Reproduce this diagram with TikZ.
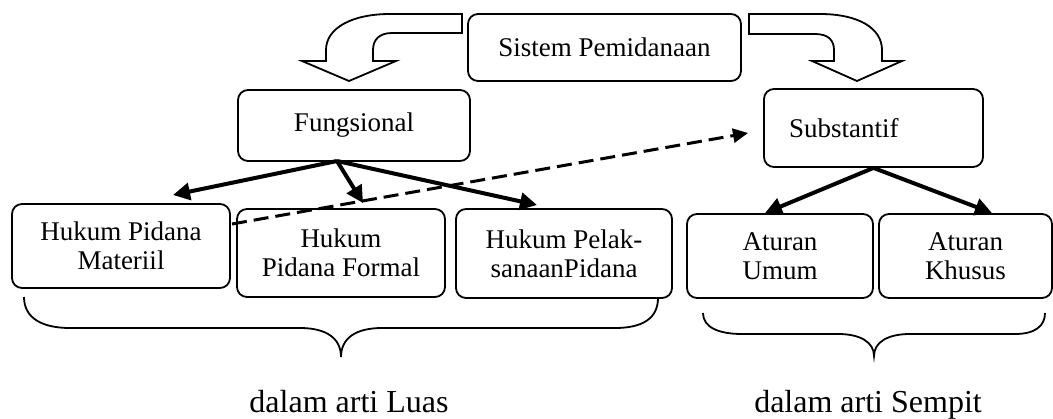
\documentclass[tikz,border=0pt]{standalone}
\usepackage{fontspec}
\setmainfont{Liberation Serif}
\usetikzlibrary{arrows.meta}
\begin{document}
\begin{tikzpicture}[x=1pt,y=-1pt,
  box/.style={draw, rounded corners=10pt, line width=1.8pt, align=center, inner sep=0pt,
    font=\fontsize{27}{29}\selectfont},
  thickarrow/.style={line width=4pt, -{Triangle[length=17pt,width=17pt]}},
  dasharrow/.style={line width=3pt, dash pattern=on 15pt off 7pt, -{Triangle[length=15pt,width=14pt]}},
  blockarrow/.style={draw, line width=1.8pt, fill=white, line join=miter},
  curlybrace/.style={line width=1.8pt},
  bracelabel/.style={font=\fontsize{32}{34}\selectfont, anchor=base, inner sep=0pt}]
\useasboundingbox (0,0) rectangle (1053,418);

% block arrows
\draw[blockarrow] (462,14) -- (390,14) .. controls (352,14) and (326,28) .. (326,50)
  -- (326,61) -- (302,61) -- (349,81) -- (396,61) -- (373,61) -- (373,50)
  .. controls (373,40) and (379,33) .. (392,33) -- (462,33) -- cycle;
\draw[blockarrow] (749,14) -- (820,14) .. controls (858,14) and (882,28) .. (882,50)
  -- (882,61) -- (902,61) -- (857,81) -- (812,61) -- (834,61) -- (834,50)
  .. controls (834,40) and (828,34) .. (815,34) -- (749,34) -- cycle;

% nodes
\node[box, minimum width=273pt, minimum height=67pt] (sis) at (604.5,47.5) {Sistem Pemidanaan};
\node[box, minimum width=232pt, minimum height=71pt] (fung) at (354,125.5) {Fungsional};
\node[box, minimum height=78pt, text width=169pt, inner xsep=25pt, align=left] (subs) at (873.5,128) {Substantif};
\node[box, minimum width=218pt, minimum height=84pt] (mat) at (121,246) {Hukum Pidana\\Materiil};
\node[box, minimum width=208pt, minimum height=88pt] (form) at (341,253) {Hukum\\Pidana Formal};
\node[box, minimum width=216pt, minimum height=89pt] (pel) at (564,253.5) {Hukum Pelak-\\sanaanPidana};
\node[box, minimum width=186pt, minimum height=84pt] (umum) at (780,256) {Aturan\\Umum};
\node[box, minimum width=173pt, minimum height=84pt] (khus) at (965.5,256) {Aturan\\Khusus};

% connector end points
\coordinate (fo) at (337,161);
\coordinate (t1) at (173,195);
\coordinate (t2) at (363,203);
\coordinate (t3) at (537,205);
\coordinate (t4) at (765,213);
\coordinate (t5) at (992,213);
\coordinate (ds) at (232,224);
\coordinate (dt) at (748,133);

\draw[thickarrow] (fo) -- (t1);
\draw[thickarrow] (fo) -- (t2);
\draw[thickarrow] (fo) -- (t3);
\draw[thickarrow] (subs.south) -- (t4);
\draw[thickarrow] (subs.south) -- (t5);
\draw[dasharrow] (ds) -- (dt);

% braces
\draw[curlybrace] (24,297) .. controls (24,318) and (42,328) .. (70,328) -- (300,328)
  .. controls (326,328) and (341,338) .. (341,357)
  .. controls (341,338) and (356,328) .. (382,328) -- (615,328)
  .. controls (643,328) and (658,318) .. (658,298);
\draw[curlybrace] (703,313) .. controls (703,327) and (718,334) .. (742,334) -- (838,334)
  .. controls (860,334) and (874,342) .. (874,356)
  .. controls (874,342) and (888,334) .. (910,334) -- (1015,334)
  .. controls (1035,334) and (1045,326) .. (1045,313);

\node[bracelabel] (luas) at (349,412) {dalam arti Luas};
\node[bracelabel] (sempit) at (868,412) {dalam arti Sempit};
\end{tikzpicture}
\end{document}
